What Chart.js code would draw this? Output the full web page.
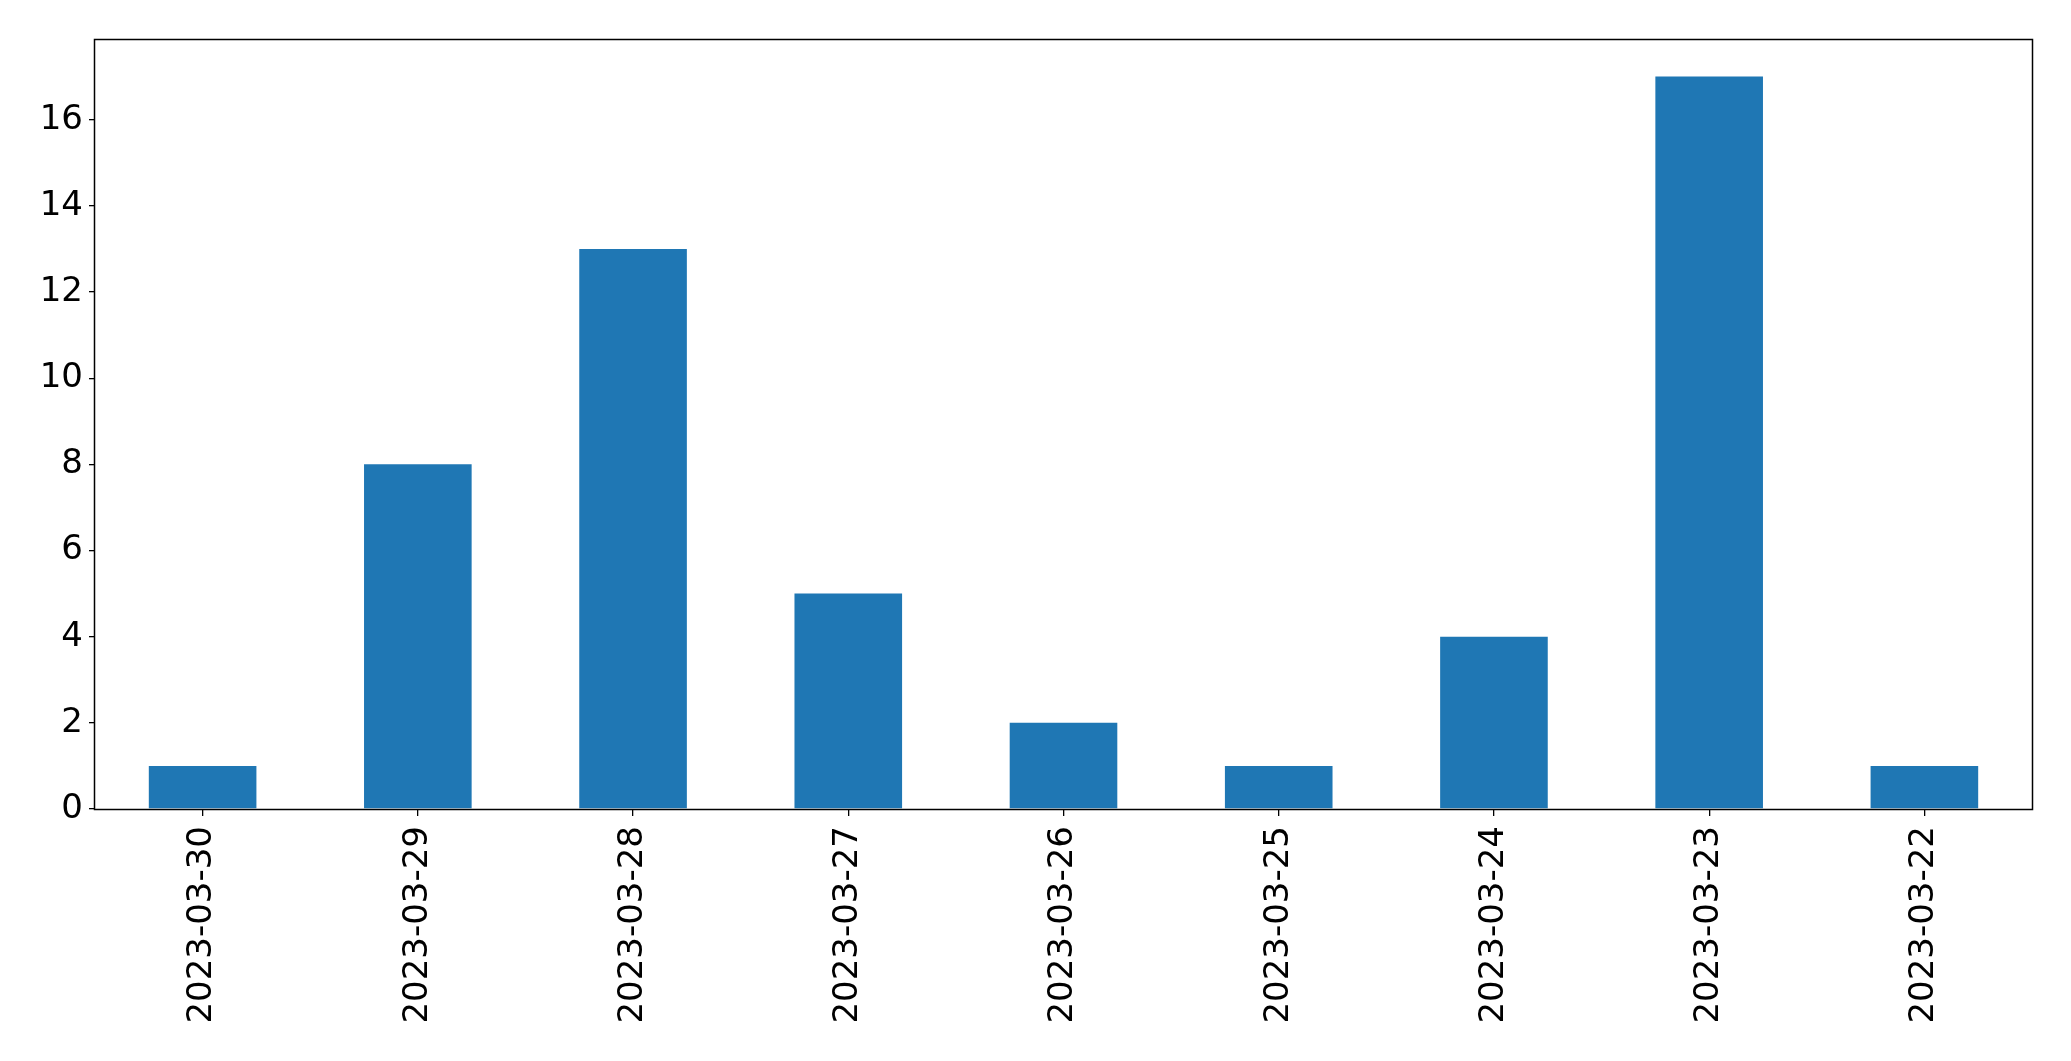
<!DOCTYPE html>
<html>
<head>
<meta charset="utf-8">
<script src="https://cdn.jsdelivr.net/npm/chart.js@4"></script>
<style>
  html, body { margin: 0; padding: 0; background: #fff; }
</style>
</head>
<body>
<canvas id="myChart" width="2071" height="1061"></canvas>
<script>
// Dates along the x-axis (as in the original order)
var dates = ["2023-03-30","2023-03-29","2023-03-28","2023-03-27","2023-03-26","2023-03-25","2023-03-24","2023-03-23","2023-03-22"];
// Count per day
var counts = [1, 8, 13, 5, 2, 1, 4, 17, 1];

// box around the plot area, like matplotlib's spines
var frame = {
  id: 'frame',
  afterDraw: function(chart) {
    var a = chart.chartArea, c = chart.ctx;
    var l = Math.round(a.left) - 0.5, t = Math.round(a.top) - 0.5;
    var r = Math.round(a.right) + 0.5, b = Math.round(a.bottom) + 0.5;
    c.save();
    c.strokeStyle = '#000';
    c.lineWidth = 1.5;
    c.strokeRect(l, t, r - l, b - t);
    c.restore();
  }
};

Chart.defaults.font.family = "'DejaVu Sans', sans-serif";
Chart.defaults.font.size = 34;
Chart.defaults.color = '#000';

var ctx = document.getElementById("myChart");
var myChart = new Chart(ctx, {
  type: 'bar',
  data: {
    labels: dates,
    datasets: [
      {
        data: counts,
        backgroundColor: "#1f77b4",
        categoryPercentage: 1.0,
        barPercentage: 0.5
      }
    ]
  },
  options: {
    responsive: false,
    animation: false,
    layout: { padding: { top: 40, right: 39, left: 0, bottom: 0 } },
    plugins: { legend: { display: false }, tooltip: { enabled: false } },
    scales: {
      x: {
        offset: true,
        grid: { display: true, drawOnChartArea: false, offset: false, tickLength: 7, color: '#000', lineWidth: 1.3 },
        border: { display: false },
        ticks: { maxRotation: 90, minRotation: 90, padding: 10 },
        afterFit: function(s) { s.height = 252; }
      },
      y: {
        min: 0,
        max: 17.85,
        grid: { display: true, drawOnChartArea: false, tickLength: 6, color: '#000', lineWidth: 1.3 },
        border: { display: false },
        ticks: { stepSize: 2, includeBounds: false, padding: 6 },
        afterFit: function(s) { s.width = 95; }
      }
    }
  },
  plugins: [frame]
});
</script>
</body>
</html>
